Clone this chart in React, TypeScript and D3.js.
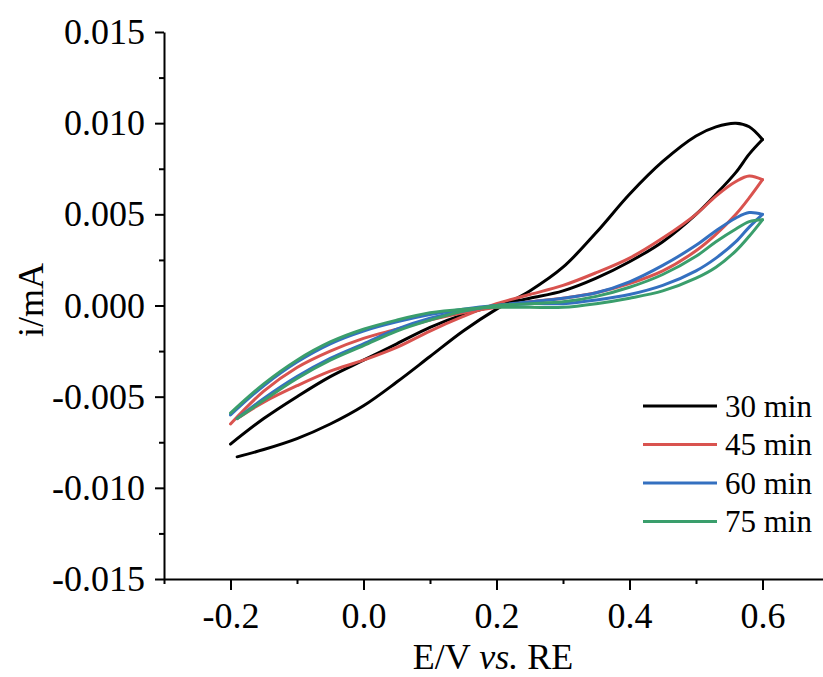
import React, { useEffect, useRef } from 'react';
import * as d3 from 'd3';

// potential grid (V vs. RE); the outer branch of each loop starts slightly right of -0.2
const potentialOuter = [-0.19, -0.15, -0.1, -0.05, 0, 0.05, 0.1, 0.15, 0.2, 0.25, 0.3, 0.35, 0.4, 0.45, 0.5, 0.53, 0.56, 0.58, 0.6];
const potentialInner = [-0.2, -0.15, -0.1, -0.05, 0, 0.05, 0.1, 0.15, 0.2, 0.25, 0.3, 0.35, 0.4, 0.45, 0.5, 0.53, 0.56, 0.58, 0.6];

// current (mA)
const outer30 = [-0.0083, -0.0079, -0.0073, -0.0065, -0.0055, -0.0042, -0.0028, -0.0014, -0.0002, 0.0008, 0.0021, 0.0040, 0.0061, 0.0079, 0.0093, 0.0098, 0.0100, 0.0098, 0.0091];
const inner30 = [-0.0076, -0.0062, -0.0050, -0.0039, -0.0030, -0.0021, -0.0012, -0.0005, 0.0000, 0.0004, 0.0008, 0.0015, 0.0024, 0.0035, 0.0050, 0.0061, 0.0073, 0.0083, 0.0091];
const outer45 = [-0.0062, -0.0053, -0.0044, -0.0036, -0.0030, -0.0023, -0.0014, -0.0006, 0.0001, 0.0006, 0.0011, 0.0018, 0.0026, 0.0037, 0.0050, 0.0060, 0.0068, 0.0071, 0.0069];
const inner45 = [-0.0065, -0.0047, -0.0034, -0.0025, -0.0018, -0.0013, -0.0008, -0.0004, -0.0001, 0.0002, 0.0004, 0.0007, 0.0012, 0.0019, 0.0030, 0.0039, 0.0050, 0.0059, 0.0069];
const outer60 = [-0.0062, -0.0051, -0.0039, -0.0029, -0.0021, -0.0013, -0.0007, -0.0003, 0.0000, 0.0002, 0.0004, 0.0007, 0.0013, 0.0022, 0.0033, 0.0041, 0.0048, 0.0051, 0.0050];
const inner60 = [-0.0060, -0.0044, -0.0031, -0.0021, -0.0014, -0.0009, -0.0005, -0.0002, 0.0000, 0.0001, 0.0001, 0.0003, 0.0006, 0.0011, 0.0019, 0.0026, 0.0035, 0.0043, 0.0050];
const outer75 = [-0.0062, -0.0052, -0.0040, -0.0030, -0.0022, -0.0014, -0.0008, -0.0003, 0.0000, 0.0001, 0.0002, 0.0005, 0.0010, 0.0017, 0.0027, 0.0035, 0.0042, 0.0046, 0.0047];
const inner75 = [-0.0059, -0.0043, -0.0030, -0.0020, -0.0013, -0.0008, -0.0004, -0.0002, -0.0001, -0.0001, -0.0001, 0.0001, 0.0004, 0.0008, 0.0015, 0.0021, 0.0030, 0.0038, 0.0047];

const seriesNames = ['30 min', '45 min', '60 min', '75 min'];
const seriesColors = ['#000000', '#d9534f', '#3470c0', '#3a9e6c'];

const xTicks = [-0.2, 0, 0.2, 0.4, 0.6];
const xMinorTicks = [-0.3, -0.1, 0.1, 0.3, 0.5, 0.7];
const yTicks = [-0.015, -0.01, -0.005, 0, 0.005, 0.01, 0.015];
const yMinorTicks = [-0.0125, -0.0075, -0.0025, 0.0025, 0.0075, 0.0125];

const W = 823;
const H = 677;
const FONT = '"Liberation Serif", "Times New Roman", serif';

export default function App() {
  const svgRef = useRef<SVGSVGElement>(null);

  useEffect(() => {
    const svg = d3.select(svgRef.current);
    svg.selectAll('*').remove();

    const x = d3.scaleLinear().domain([-0.3, 0.7]).range([164, 829]);
    const y = d3.scaleLinear().domain([-0.015, 0.015]).range([579, 32]);

    const loops = [
      [outer30, inner30],
      [outer45, inner45],
      [outer60, inner60],
      [outer75, inner75],
    ];

    const line = d3.line<[number, number]>()
      .x(d => x(d[0]))
      .y(d => y(d[1]))
      .curve(d3.curveCatmullRom.alpha(0.5));

    // each CV loop is drawn as its two branches, meeting at the vertex potential
    const plot = svg.append('g');
    loops.forEach(([outer, inner], k) => {
      const a = potentialOuter.map((v, i) => [v, outer[i]] as [number, number]);
      const b = potentialInner.map((v, i) => [v, inner[i]] as [number, number]);
      [a, b].forEach(pts => {
        plot.append('path')
          .attr('d', line(pts))
          .attr('fill', 'none')
          .attr('stroke', seriesColors[k])
          .attr('stroke-width', 3)
          .attr('stroke-linejoin', 'round')
          .attr('stroke-linecap', 'round');
      });
    });

    // axes
    const xAxis = svg.append('g')
      .attr('transform', 'translate(0,579)')
      .call(d3.axisBottom(x).tickValues(xTicks).tickFormat(d => (+d).toFixed(1)).tickSizeInner(11).tickSizeOuter(0).tickPadding(12));
    svg.append('g')
      .attr('transform', 'translate(0,579)')
      .call(d3.axisBottom(x).tickValues(xMinorTicks).tickFormat(() => '').tickSizeInner(5).tickSizeOuter(0))
      .call(g => g.select('.domain').remove());

    const yAxis = svg.append('g')
      .attr('transform', 'translate(164,0)')
      .call(d3.axisLeft(y).tickValues(yTicks).tickFormat(d => (+d).toFixed(3)).tickSizeInner(9).tickSizeOuter(0).tickPadding(10));
    svg.append('g')
      .attr('transform', 'translate(164,0)')
      .call(d3.axisLeft(y).tickValues(yMinorTicks).tickFormat(() => '').tickSizeInner(5).tickSizeOuter(0))
      .call(g => g.select('.domain').remove());

    svg.selectAll('.domain, .tick line').attr('stroke', '#000').attr('stroke-width', 2);
    [xAxis, yAxis].forEach(g => g.selectAll('text')
      .attr('font-family', FONT)
      .attr('font-size', 36)
      .attr('fill', '#000'));

    // axis titles
    const title = svg.append('text')
      .attr('x', 493)
      .attr('y', 669)
      .attr('text-anchor', 'middle')
      .attr('font-family', FONT)
      .attr('font-size', 36);
    title.append('tspan').text('E/V ');
    title.append('tspan').attr('font-style', 'italic').text('vs.');
    title.append('tspan').text(' RE');

    svg.append('text')
      .attr('transform', 'translate(43,300) rotate(-90)')
      .attr('text-anchor', 'middle')
      .attr('font-family', FONT)
      .attr('font-size', 36)
      .text('i/mA');

    // legend
    const legend = svg.append('g');
    seriesNames.forEach((name, k) => {
      const ly = 406 + k * 38.5;
      legend.append('line')
        .attr('x1', 643).attr('x2', 717)
        .attr('y1', ly).attr('y2', ly)
        .attr('stroke', seriesColors[k])
        .attr('stroke-width', 3);
      legend.append('text')
        .attr('x', 725)
        .attr('y', ly)
        .attr('dy', '0.35em')
        .attr('font-family', FONT)
        .attr('font-size', 31)
        .text(name);
    });
  }, []);

  return (
    <svg
      ref={svgRef}
      width={W}
      height={H}
      style={{ position: 'absolute', left: 0, top: 0, overflow: 'hidden', background: '#fff' }}
    />
  );
}
